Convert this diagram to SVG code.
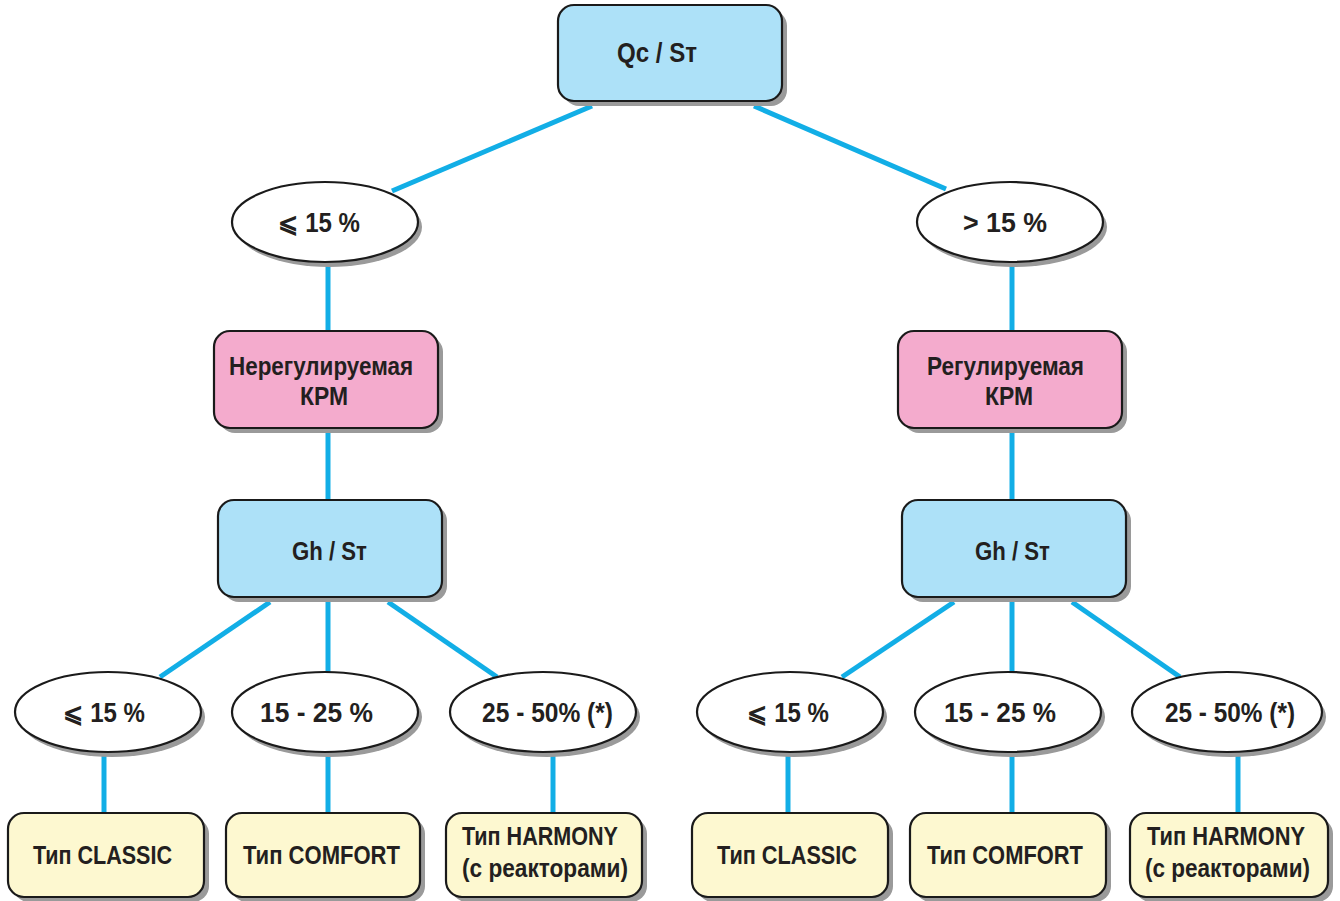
<svg xmlns="http://www.w3.org/2000/svg" width="1340" height="901" viewBox="0 0 1340 901">
<defs>
<style>
.sh{fill:#9a9a9a;stroke:none}
.b{stroke:#1a1a1a;stroke-width:2.2}
.blue{fill:#ade1f8}
.pink{fill:#f4abcd}
.yel{fill:#fdf8d0}
.wh{fill:#ffffff}
.c{stroke:#12aee6;stroke-width:5;fill:none}
text{font-family:"Liberation Sans",Arial,sans-serif;font-weight:bold;font-size:25px;fill:#231f20}
.e{font-size:27px}
</style>
</defs>
<rect width="1340" height="901" fill="#ffffff"/>
<g id="connectors">
<line class="c" x1="592" y1="106" x2="392" y2="191"/>
<line class="c" x1="754" y1="106" x2="946" y2="189"/>
<line class="c" x1="328" y1="262" x2="328" y2="331"/>
<line class="c" x1="328" y1="428" x2="328" y2="500"/>
<line class="c" x1="1012" y1="262" x2="1012" y2="331"/>
<line class="c" x1="1012" y1="428" x2="1012" y2="500"/>
<line class="c" x1="270" y1="602" x2="160" y2="677"/>
<line class="c" x1="328" y1="602" x2="328" y2="672"/>
<line class="c" x1="388" y1="602" x2="497" y2="677"/>
<line class="c" x1="954" y1="602" x2="842" y2="677"/>
<line class="c" x1="1012" y1="602" x2="1012" y2="672"/>
<line class="c" x1="1072" y1="602" x2="1180" y2="677"/>
<line class="c" x1="104" y1="752" x2="104" y2="813"/>
<line class="c" x1="328" y1="752" x2="328" y2="813"/>
<line class="c" x1="553" y1="752" x2="553" y2="813"/>
<line class="c" x1="788" y1="752" x2="788" y2="813"/>
<line class="c" x1="1012" y1="752" x2="1012" y2="813"/>
<line class="c" x1="1238" y1="752" x2="1238" y2="813"/>
</g>
<g id="n-qc">
<rect class="sh" x="563" y="10" width="224" height="96" rx="16"/>
<rect class="blue b" x="558" y="5" width="224" height="96" rx="16"/>
<text class="e" x="617" y="62" textLength="80" lengthAdjust="spacingAndGlyphs">Qc / Sт</text>
</g>
<g id="e-le15">
<ellipse class="sh" cx="329" cy="227" rx="93" ry="40"/>
<ellipse class="wh b" cx="325" cy="222" rx="93" ry="40"/>
<text class="e" x="278" y="232" textLength="82" lengthAdjust="spacingAndGlyphs">⩽ 15 %</text>
</g>
<g id="e-gt15">
<ellipse class="sh" cx="1014" cy="227" rx="93" ry="40"/>
<ellipse class="wh b" cx="1010" cy="222" rx="93" ry="40"/>
<text class="e" x="963" y="232" textLength="84" lengthAdjust="spacingAndGlyphs">&gt; 15 %</text>
</g>
<g id="n-nereg">
<rect class="sh" x="219" y="336" width="224" height="97" rx="16"/>
<rect class="pink b" x="214" y="331" width="224" height="97" rx="16"/>
<text x="229" y="375" textLength="184" lengthAdjust="spacingAndGlyphs">Нерегулируемая</text>
<text x="300" y="405" textLength="48" lengthAdjust="spacingAndGlyphs">КРМ</text>
</g>
<g id="n-reg">
<rect class="sh" x="903" y="336" width="224" height="97" rx="16"/>
<rect class="pink b" x="898" y="331" width="224" height="97" rx="16"/>
<text x="927" y="375" textLength="157" lengthAdjust="spacingAndGlyphs">Регулируемая</text>
<text x="985" y="405" textLength="48" lengthAdjust="spacingAndGlyphs">КРМ</text>
</g>
<g id="n-gh-left">
<rect class="sh" x="223" y="505" width="224" height="97" rx="16"/>
<rect class="blue b" x="218" y="500" width="224" height="97" rx="16"/>
<text x="292" y="560" textLength="75" lengthAdjust="spacingAndGlyphs">Gh / Sт</text>
</g>
<g id="n-gh-right">
<rect class="sh" x="907" y="505" width="224" height="97" rx="16"/>
<rect class="blue b" x="902" y="500" width="224" height="97" rx="16"/>
<text x="975" y="560" textLength="75" lengthAdjust="spacingAndGlyphs">Gh / Sт</text>
</g>
<g id="e-l1">
<ellipse class="sh" cx="112" cy="717" rx="93" ry="40"/>
<ellipse class="wh b" cx="108" cy="712" rx="93" ry="40"/>
<text class="e" x="63" y="722" textLength="82" lengthAdjust="spacingAndGlyphs">⩽ 15 %</text>
</g>
<g id="e-l2">
<ellipse class="sh" cx="329" cy="717" rx="93" ry="40"/>
<ellipse class="wh b" cx="325" cy="712" rx="93" ry="40"/>
<text class="e" x="260" y="722" textLength="113" lengthAdjust="spacingAndGlyphs">15 - 25 %</text>
</g>
<g id="e-l3">
<ellipse class="sh" cx="547" cy="717" rx="93" ry="40"/>
<ellipse class="wh b" cx="543" cy="712" rx="93" ry="40"/>
<text class="e" x="482" y="722" textLength="131" lengthAdjust="spacingAndGlyphs">25 - 50% (*)</text>
</g>
<g id="e-r1">
<ellipse class="sh" cx="794" cy="717" rx="93" ry="40"/>
<ellipse class="wh b" cx="790" cy="712" rx="93" ry="40"/>
<text class="e" x="747" y="722" textLength="82" lengthAdjust="spacingAndGlyphs">⩽ 15 %</text>
</g>
<g id="e-r2">
<ellipse class="sh" cx="1012" cy="717" rx="93" ry="40"/>
<ellipse class="wh b" cx="1008" cy="712" rx="93" ry="40"/>
<text class="e" x="944" y="722" textLength="112" lengthAdjust="spacingAndGlyphs">15 - 25 %</text>
</g>
<g id="e-r3">
<ellipse class="sh" cx="1231" cy="717" rx="95" ry="40"/>
<ellipse class="wh b" cx="1227" cy="712" rx="95" ry="40"/>
<text class="e" x="1165" y="722" textLength="130" lengthAdjust="spacingAndGlyphs">25 - 50% (*)</text>
</g>
<g id="n-classic-l">
<rect class="sh" x="13" y="818" width="196" height="84" rx="16"/>
<rect class="yel b" x="8" y="813" width="196" height="84" rx="16"/>
<text x="33" y="864" textLength="139" lengthAdjust="spacingAndGlyphs">Тип CLASSIC</text>
</g>
<g id="n-comfort-l">
<rect class="sh" x="231" y="818" width="194" height="84" rx="16"/>
<rect class="yel b" x="226" y="813" width="194" height="84" rx="16"/>
<text x="243" y="864" textLength="157" lengthAdjust="spacingAndGlyphs">Тип COMFORT</text>
</g>
<g id="n-harmony-l">
<rect class="sh" x="451" y="818" width="196" height="84" rx="16"/>
<rect class="yel b" x="446" y="813" width="196" height="84" rx="16"/>
<text x="462" y="845" textLength="156" lengthAdjust="spacingAndGlyphs">Тип HARMONY</text>
<text x="462" y="877" textLength="166" lengthAdjust="spacingAndGlyphs">(с реакторами)</text>
</g>
<g id="n-classic-r">
<rect class="sh" x="697" y="818" width="196" height="84" rx="16"/>
<rect class="yel b" x="692" y="813" width="196" height="84" rx="16"/>
<text x="717" y="864" textLength="140" lengthAdjust="spacingAndGlyphs">Тип CLASSIC</text>
</g>
<g id="n-comfort-r">
<rect class="sh" x="915" y="818" width="196" height="84" rx="16"/>
<rect class="yel b" x="910" y="813" width="196" height="84" rx="16"/>
<text x="927" y="864" textLength="156" lengthAdjust="spacingAndGlyphs">Тип COMFORT</text>
</g>
<g id="n-harmony-r">
<rect class="sh" x="1135" y="818" width="198" height="84" rx="16"/>
<rect class="yel b" x="1130" y="813" width="198" height="84" rx="16"/>
<text x="1147" y="845" textLength="158" lengthAdjust="spacingAndGlyphs">Тип HARMONY</text>
<text x="1145" y="877" textLength="165" lengthAdjust="spacingAndGlyphs">(с реакторами)</text>
</g>
</svg>
